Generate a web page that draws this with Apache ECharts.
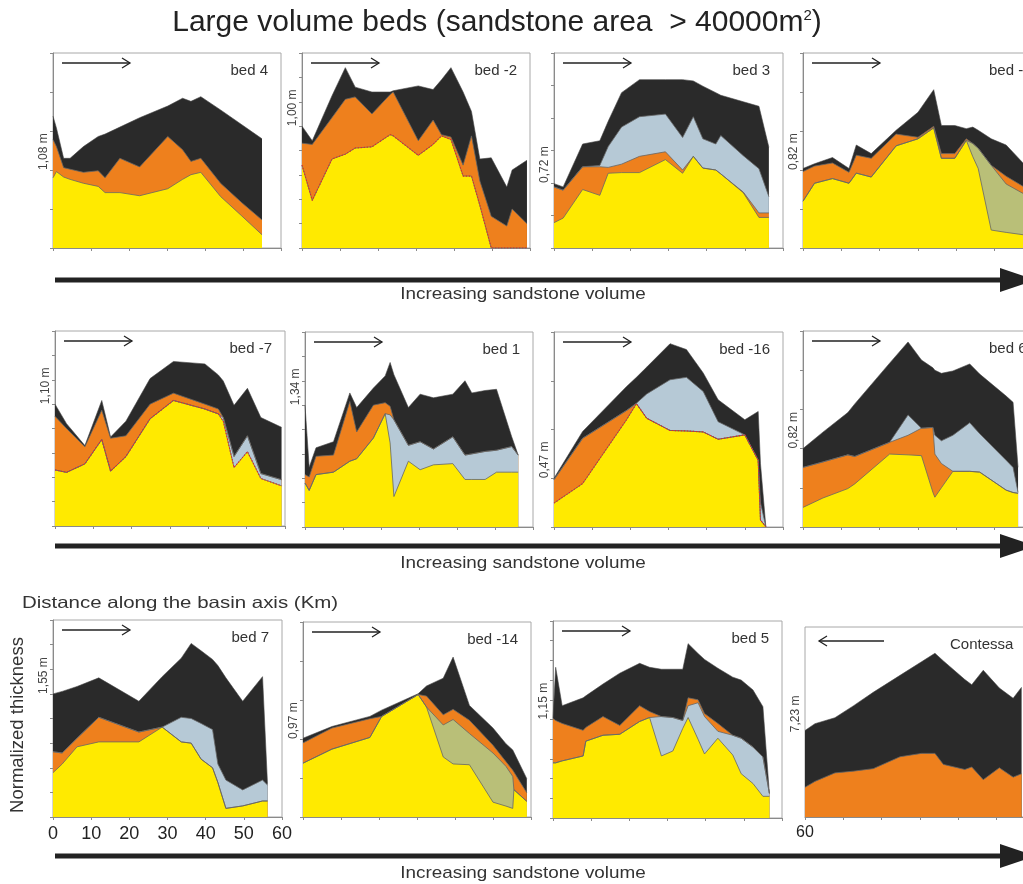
<!DOCTYPE html>
<html>
<head>
<meta charset="utf-8">
<script src="https://cdn.jsdelivr.net/npm/echarts@6/dist/echarts.min.js"></script>
<style>
  html, body { margin: 0; padding: 0; background: #fff; }
  #main { width: 1023px; height: 884px; }
</style>
</head>
<body>
<div id="main"></div>
<script>
// distance along the basin axis (km) of each measured section, then normalized thickness of each layer top
const bed4X = [0, 0.9, 2.8, 4.5, 8, 11.9, 13.7, 17.6, 22.8, 30.2, 34.1, 36.3, 38.9, 44.1, 49.7, 55]
const bed4Yellow = [0.90, 0.98, 0.91, 0.88, 0.83, 0.79, 0.71, 0.71, 0.67, 0.76, 0.88, 0.94, 0.97, 0.66, 0.41, 0.17]
const bed4Orange = [1.39, 1.30, 1.03, 1.01, 0.97, 0.99, 0.90, 1.15, 1.04, 1.43, 1.26, 1.11, 1.15, 0.83, 0.58, 0.36]
const bed4Black = [1.69, 1.54, 1.15, 1.15, 1.30, 1.43, 1.46, 1.55, 1.67, 1.82, 1.92, 1.88, 1.94, 1.77, 1.58, 1.40]

const bedM2X = [0, 2.7, 7.9, 11.4, 14.0, 18.4, 23.2, 24.0, 30.6, 34.5, 36.7, 39.2, 42.4, 44.6, 46.8, 49.8, 53.9, 55.3, 59.2]
const bedM2Yellow = [0.68, 0.39, 0.73, 0.77, 0.82, 0.83, 0.93, 0.92, 0.76, 0.85, 0.92, 0.89, 0.59, 0.59, 0.35, 0, 0, 0, 0]
const bedM2Orange = [0.86, 0.85, 1.07, 1.22, 1.24, 1.10, 1.26, 1.28, 0.88, 1.05, 0.93, 0.91, 0.68, 0.92, 0.55, 0.26, 0.18, 0.32, 0.20]
const bedM2Black = [1.00, 0.88, 1.25, 1.48, 1.32, 1.28, 1.28, 1.29, 1.33, 1.30, 1.38, 1.48, 1.28, 1.12, 0.73, 0.74, 0.50, 0.64, 0.72]

const bed3X = [0, 2.4, 7.5, 12.0, 14.2, 17.7, 22.4, 29.2, 33.7, 36.5, 39.0, 42.4, 43.7, 49.6, 53.7, 56.3]
const bed3Yellow = [0.39, 0.46, 0.90, 0.81, 1.15, 1.16, 1.16, 1.36, 1.15, 1.41, 1.23, 1.20, 1.14, 0.85, 0.47, 0.47]
const bed3Orange = [0.94, 0.89, 1.25, 1.25, 1.24, 1.29, 1.41, 1.48, 1.20, 1.41, 1.23, 1.20, 1.14, 0.86, 0.54, 0.54]
const bed3Blue = [0.94, 0.89, 1.25, 1.27, 1.56, 1.86, 2.02, 2.06, 1.70, 2.02, 1.68, 1.60, 1.73, 1.42, 1.22, 0.79]
const bed3Black = [0.99, 0.94, 1.60, 1.65, 1.95, 2.39, 2.59, 2.59, 2.59, 2.57, 2.49, 2.39, 2.35, 2.25, 2.18, 1.55]

const bedM6X = [0, 3.0, 7.7, 12.0, 13.9, 17.8, 24.3, 30.0, 34.1, 36.1, 39.6, 42.6, 44.3, 45.7, 49.1, 53.0, 57.4]
const bedM6Yellow = [0.60, 0.83, 0.89, 0.83, 0.96, 0.91, 1.31, 1.40, 1.54, 1.15, 1.15, 1.38, 1.17, 1.02, 0.23, 0.20, 0.17]
const bedM6Green = [0.60, 0.83, 0.89, 0.83, 0.96, 0.91, 1.31, 1.40, 1.54, 1.15, 1.15, 1.38, 1.34, 1.28, 1.06, 0.82, 0.70]
const bedM6Orange = [0.98, 1.05, 1.09, 0.97, 1.19, 1.15, 1.46, 1.42, 1.56, 1.21, 1.21, 1.40, 1.34, 1.28, 1.06, 0.92, 0.79]
const bedM6Black = [1.02, 1.08, 1.16, 1.02, 1.32, 1.21, 1.51, 1.74, 2.03, 1.57, 1.57, 1.53, 1.55, 1.51, 1.40, 1.32, 1.09]

const bedM7X = [0, 3.0, 7.8, 12.2, 14.5, 18.5, 24.8, 30.9, 39.1, 42.6, 43.9, 46.7, 50.2, 53.7, 59.1]
const bedM7Yellow = [0.46, 0.44, 0.51, 0.71, 0.45, 0.57, 0.88, 1.03, 0.96, 0.92, 0.86, 0.48, 0.61, 0.39, 0.33]
const bedM7Blue = [0.46, 0.44, 0.51, 0.71, 0.45, 0.57, 0.88, 1.03, 0.96, 0.92, 0.89, 0.57, 0.74, 0.43, 0.38]
const bedM7Orange = [0.90, 0.80, 0.65, 0.95, 0.72, 0.74, 1.00, 1.09, 1.00, 0.96, 0.89, 0.57, 0.74, 0.43, 0.38]
const bedM7Black = [1.00, 0.84, 0.66, 1.03, 0.73, 0.86, 1.21, 1.35, 1.33, 1.24, 1.19, 0.99, 1.13, 0.89, 0.81]

const bed1X = [0, 1.1, 2.9, 7.5, 11.8, 13.6, 18.0, 21.1, 22.4, 23.4, 27.2, 30.3, 33.8, 38.9, 42.1, 43.9, 47.4, 50.4, 54.4, 56.1]
const bed1Yellow = [0.36, 0.30, 0.43, 0.45, 0.54, 0.56, 0.73, 0.93, 0.69, 0.25, 0.54, 0.47, 0.51, 0.52, 0.39, 0.39, 0.39, 0.45, 0.45, 0.45]
const bed1Blue = [0.36, 0.30, 0.43, 0.45, 0.54, 0.56, 0.73, 0.93, 0.92, 0.88, 0.67, 0.70, 0.64, 0.74, 0.59, 0.60, 0.62, 0.63, 0.66, 0.59]
const bed1Orange = [0.43, 0.41, 0.58, 0.59, 1.03, 0.78, 1.00, 1.02, 0.99, 0.88, 0.67, 0.70, 0.64, 0.74, 0.59, 0.60, 0.62, 0.63, 0.66, 0.59]
const bed1Black = [1.00, 0.49, 0.65, 0.70, 1.10, 0.98, 1.14, 1.24, 1.35, 1.25, 0.98, 1.09, 1.06, 1.09, 1.20, 1.10, 1.12, 1.13, 0.74, 0.59]

const bedM16X = [0, 7.5, 19.0, 21.6, 24.3, 30.4, 34.7, 39.1, 43.0, 50.0, 53.5, 54.1, 55.5]
const bedM16Yellow = [0.49, 0.89, 2.20, 2.53, 2.23, 1.98, 1.97, 1.95, 1.80, 1.89, 1.37, 0.14, 0.01]
const bedM16Orange = [0.97, 1.82, 2.39, 2.53, 2.23, 1.98, 1.97, 1.95, 1.80, 1.89, 1.37, 0.14, 0.01]
const bedM16Blue = [0.97, 1.82, 2.39, 2.54, 2.73, 3.02, 3.07, 2.78, 2.16, 1.89, 1.37, 0.50, 0.01]
const bedM16Black = [1.00, 1.96, 2.88, 3.07, 3.28, 3.76, 3.64, 3.16, 2.61, 2.20, 2.37, 1.30, 0.01]

const bed6X = [0, 5.2, 11.7, 13.5, 22.6, 27.4, 30.9, 33.9, 34.4, 36.1, 39.1, 43.5, 46.1, 53.0, 54.8, 56.1]
const bed6Yellow = [0.25, 0.37, 0.49, 0.55, 0.93, 0.92, 0.91, 0.44, 0.38, 0.50, 0.71, 0.71, 0.70, 0.47, 0.44, 0.43]
const bed6Orange = [0.76, 0.83, 0.92, 0.90, 1.08, 1.17, 1.26, 1.27, 0.93, 0.81, 0.71, 0.71, 0.70, 0.47, 0.44, 0.43]
const bed6Blue = [0.76, 0.83, 0.92, 0.90, 1.08, 1.43, 1.26, 1.27, 1.17, 1.10, 1.17, 1.33, 1.19, 0.85, 0.76, 0.44]
const bed6Black = [1.00, 1.21, 1.46, 1.57, 2.09, 2.36, 2.13, 2.03, 2.00, 1.96, 1.99, 2.08, 1.95, 1.67, 1.59, 0.76]

const bed7X = [0, 2.4, 6.3, 12.0, 22.5, 28.6, 33.6, 36.2, 38.8, 41.8, 43.2, 45.3, 49.7, 54.9, 56.2]
const bed7Yellow = [0.36, 0.43, 0.57, 0.61, 0.61, 0.73, 0.61, 0.60, 0.47, 0.40, 0.28, 0.07, 0.09, 0.13, 0.13]
const bed7Orange = [0.53, 0.52, 0.64, 0.81, 0.69, 0.73, 0.61, 0.60, 0.47, 0.40, 0.28, 0.07, 0.09, 0.13, 0.13]
const bed7Blue = [0.53, 0.52, 0.64, 0.81, 0.69, 0.73, 0.81, 0.80, 0.76, 0.71, 0.43, 0.30, 0.22, 0.30, 0.26]
const bed7Black = [1.00, 1.02, 1.06, 1.13, 0.94, 1.14, 1.29, 1.41, 1.35, 1.28, 1.23, 1.13, 0.94, 1.14, 0.27]

const bedM14X = [0, 7.6, 17.6, 20.7, 30.3, 32.5, 36.9, 39.5, 43.8, 50.0, 53.4, 55.2, 55.5, 58.9]
const bedM14Yellow = [0.69, 0.87, 1.02, 1.29, 1.57, 1.41, 0.77, 0.68, 0.67, 0.19, 0.14, 0.11, 0.35, 0.20]
const bedM14Green = [0.69, 0.87, 1.02, 1.29, 1.57, 1.41, 1.18, 1.25, 1.07, 0.82, 0.65, 0.52, 0.35, 0.20]
const bedM14Orange = [0.95, 1.14, 1.26, 1.29, 1.57, 1.55, 1.31, 1.38, 1.24, 0.92, 0.71, 0.60, 0.58, 0.31]
const bedM14Black = [1.01, 1.16, 1.29, 1.37, 1.58, 1.68, 1.78, 2.05, 1.43, 1.14, 0.94, 0.86, 0.84, 0.49]

const bed5X = [0, 0.7, 2.4, 7.9, 8.6, 13.1, 17.5, 22.7, 25.3, 28.4, 31.4, 34.0, 35.4, 38.0, 39.7, 43.2, 47.1, 49.3, 52.4, 55.0, 56.7]
const bed5Yellow = [0.56, 0.56, 0.58, 0.63, 0.78, 0.84, 0.85, 0.98, 1.02, 0.63, 0.68, 0.91, 1.02, 0.80, 0.65, 0.81, 0.64, 0.45, 0.35, 0.22, 0.22]
const bed5Blue = [0.56, 0.56, 0.58, 0.63, 0.78, 0.84, 0.85, 0.98, 1.02, 1.03, 1.02, 0.99, 1.14, 1.17, 1.03, 0.88, 0.84, 0.81, 0.72, 0.62, 0.25]
const bed5Orange = [1.01, 0.99, 0.96, 0.89, 0.92, 1.03, 0.94, 1.14, 1.08, 1.03, 1.02, 0.99, 1.22, 1.20, 1.06, 0.96, 0.84, 0.81, 0.72, 0.62, 0.25]
const bed5Black = [1.01, 1.53, 1.14, 1.22, 1.24, 1.36, 1.47, 1.57, 1.53, 1.51, 1.51, 1.51, 1.77, 1.67, 1.61, 1.52, 1.43, 1.40, 1.30, 1.13, 0.25]

const contessaX = [60, 57.4, 52.2, 47.4, 42.2, 35.2, 29.6, 26.1, 23.9, 18.3, 16.5, 13.5, 9.3, 5.7, 3.5]
const contessaOrange = [0.35, 0.42, 0.52, 0.54, 0.57, 0.71, 0.75, 0.75, 0.62, 0.56, 0.59, 0.44, 0.58, 0.47, 0.51]
const contessaBlack = [1.02, 1.10, 1.17, 1.31, 1.47, 1.67, 1.83, 1.93, 1.84, 1.62, 1.56, 1.73, 1.52, 1.40, 1.53]

const xTicks = [0, 10, 20, 30, 40, 50, 60]

const colors = {
  black: '#2a2a2a',
  orange: '#ee801d',
  blue: '#b6c9d6',
  green: '#b9bf78',
  yellow: '#ffea00'
}

// layers listed from the top one down, each drawn over the previous
const panels = [
  {name: 'bed 4', tag: '1,08 m', ymax: 2.5, step: 0.5, box: [53, 53, 228, 195], x: bed4X,
    layers: [['black', bed4Black], ['orange', bed4Orange], ['yellow', bed4Yellow]]},
  {name: 'bed -2', tag: '1,00 m', ymax: 1.6, step: 0.2, box: [302, 53, 228, 195], x: bedM2X, dots: true,
    layers: [['black', bedM2Black], ['orange', bedM2Orange], ['yellow', bedM2Yellow]]},
  {name: 'bed 3', tag: '0,72 m', ymax: 3, step: 0.5, box: [554, 53, 229, 195], x: bed3X,
    layers: [['black', bed3Black], ['blue', bed3Blue], ['orange', bed3Orange], ['yellow', bed3Yellow]]},
  {name: 'bed -6', tag: '0,82 m', ymax: 2.5, step: 0.5, box: [803, 53, 230, 195], x: bedM6X,
    layers: [['black', bedM6Black], ['orange', bedM6Orange], ['green', bedM6Green], ['yellow', bedM6Yellow]]},
  {name: 'bed -7', tag: '1,10 m', ymax: 1.6, step: 0.2, box: [55, 331, 230, 195], x: bedM7X, dots: true,
    layers: [['black', bedM7Black], ['orange', bedM7Orange], ['blue', bedM7Blue], ['yellow', bedM7Yellow]]},
  {name: 'bed 1', tag: '1,34 m', ymax: 1.6, step: 0.2, box: [305, 332, 228, 195], x: bed1X,
    layers: [['black', bed1Black], ['orange', bed1Orange], ['blue', bed1Blue], ['yellow', bed1Yellow]]},
  {name: 'bed -16', tag: '0,47 m', ymax: 4, step: 1, box: [554, 332, 229, 195], x: bedM16X, dots: true,
    layers: [['black', bedM16Black], ['blue', bedM16Blue], ['orange', bedM16Orange], ['yellow', bedM16Yellow]]},
  {name: 'bed 6', tag: '0,82 m', ymax: 2.5, step: 0.5, box: [803, 331, 230, 196], x: bed6X,
    layers: [['black', bed6Black], ['blue', bed6Blue], ['orange', bed6Orange], ['yellow', bed6Yellow]]},
  {name: 'bed 7', tag: '1,55 m', ymax: 1.6, step: 0.2, box: [53, 620, 229, 197], x: bed7X,
    layers: [['black', bed7Black], ['blue', bed7Blue], ['orange', bed7Orange], ['yellow', bed7Yellow]]},
  {name: 'bed -14', tag: '0,97 m', ymax: 2.5, step: 0.5, box: [303, 622, 228, 195], x: bedM14X,
    layers: [['black', bedM14Black], ['orange', bedM14Orange], ['green', bedM14Green], ['yellow', bedM14Yellow]]},
  {name: 'bed 5', tag: '1,15 m', ymax: 2, step: 0.2, box: [553, 621, 229, 197], x: bed5X,
    layers: [['black', bed5Black], ['orange', bed5Orange], ['blue', bed5Blue], ['yellow', bed5Yellow]]},
  {name: 'Contessa', tag: '7,23 m', ymax: 2.24, step: 1, box: [805, 627, 230, 190], x: contessaX,
    layers: [['black', contessaBlack], ['orange', contessaOrange]], reverse: true}
]

const FONT = 'Liberation Sans, Arial, sans-serif'
const grids = [], xAxes = [], yAxes = [], series = [], graphics = []

panels.forEach((p, i) => {
  const [left, top, width, height] = p.box
  grids.push({left, top, width, height, outerBoundsMode: 'none', containLabel: false,
    show: true, borderColor: '#a8a8a8', borderWidth: 1, backgroundColor: 'transparent'})
  const showX = i === 8 || i === 11
  xAxes.push({
    gridIndex: i, type: 'value', min: 0, max: 60, interval: 10, inverse: !!p.reverse,
    axisLine: {show: true, onZero: false, lineStyle: {color: '#8a8a8a', width: 1}},
    axisTick: {show: true, length: 3, lineStyle: {color: '#8a8a8a'}},
    splitLine: {show: false},
    axisLabel: {
      show: showX, fontFamily: FONT, fontSize: i === 11 ? 16 : 18, color: '#222', margin: 8,
      formatter: v => (i === 11 && v !== 60 && v !== 0) ? '' : (xTicks.includes(v) ? String(v) : '')
    }
  })
  yAxes.push({
    gridIndex: i, type: 'value', min: 0, max: p.ymax, interval: p.step,
    axisLine: {show: true, lineStyle: {color: '#8a8a8a', width: 1}},
    axisTick: {show: true, length: 3, lineStyle: {color: '#8a8a8a'}},
    splitLine: {show: false},
    axisLabel: {
      rotate: 90, align: 'left', margin: 3, fontFamily: FONT, fontSize: 12, color: '#444',
      formatter: v => Math.abs(v - 1) < 1e-6 ? p.tag : ''
    }
  })
  p.layers.forEach(([kind, vals]) => {
    series.push({
      type: 'line', xAxisIndex: i, yAxisIndex: i, name: p.name + ' ' + kind,
      data: p.x.map((x, k) => [x, vals[k]]),
      symbol: 'none', silent: true,
      lineStyle: kind === 'black' ? {color: '#444', width: 0.6} : {color: '#666', width: 0.8},
      areaStyle: {color: colors[kind], opacity: 1}
    })
  })
  if (p.dots) {
    const top = p.layers[p.layers.length - 1][1]
    series.push({
      type: 'line', xAxisIndex: i, yAxisIndex: i, name: p.name + ' contact',
      data: p.x.map((x, k) => [x, top[k]]),
      symbol: 'none', silent: true,
      lineStyle: {color: '#e4242b', width: 1.1, type: [1.3, 1.7]}
    })
  }

  // small direction arrow and bed name
  const ay = top + (p.reverse ? 14 : 10)
  if (p.reverse) {
    const x0 = left + 79, x1 = left + 14
    graphics.push({type: 'polyline', shape: {points: [[x0, ay], [x1, ay]]}, style: {stroke: '#222', lineWidth: 1.3, fill: null}})
    graphics.push({type: 'polyline', shape: {points: [[x1 + 8, ay - 5], [x1, ay], [x1 + 8, ay + 5]]}, style: {stroke: '#222', lineWidth: 1.3, fill: null}})
  } else {
    const x0 = left + 9, x1 = left + 77
    graphics.push({type: 'polyline', shape: {points: [[x0, ay], [x1, ay]]}, style: {stroke: '#222', lineWidth: 1.3, fill: null}})
    graphics.push({type: 'polyline', shape: {points: [[x1 - 8, ay - 5], [x1, ay], [x1 - 8, ay + 5]]}, style: {stroke: '#222', lineWidth: 1.3, fill: null}})
  }
  const col = i % 4
  const nameX = col === 3 ? (i === 11 ? left + 145 : left + 186) : left + width - 13
  graphics.push({
    type: 'text', x: nameX, y: top + 18,
    style: {text: p.name, fontFamily: FONT, fontSize: 15, fill: '#333',
      align: col === 3 ? 'left' : 'right', verticalAlign: 'middle'}
  })
})

// big "increasing sandstone volume" arrows
;[280, 546, 856].forEach((y, r) => {
  graphics.push({type: 'rect', shape: {x: 55, y: y - 2.5, width: 950, height: 5}, style: {fill: '#222'}})
  graphics.push({type: 'polygon', shape: {points: [[1000, y - 12], [1036, y], [1000, y + 12]]}, style: {fill: '#222'}})
  graphics.push({
    type: 'text', x: 523, y: [294, 563, 873][r], scaleX: 1.11, originX: 0,
    style: {text: 'Increasing sandstone volume', fontFamily: FONT, fontSize: 17, fill: '#333', align: 'center', verticalAlign: 'middle'}
  })
})

graphics.push({
  type: 'text', x: 497, y: 23,
  style: {
    text: 'Large volume beds (sandstone area  > 40000m{sup|2})',
    fontFamily: FONT, fontSize: 30, fill: '#222', align: 'center', verticalAlign: 'middle',
    rich: {sup: {fontSize: 15, verticalAlign: 'top', fontFamily: FONT, fill: '#222'}}
  }
})
graphics.push({
  type: 'text', x: 22, y: 603, scaleX: 1.24, originX: 0,
  style: {text: 'Distance along the basin axis (Km)', fontFamily: FONT, fontSize: 16.5, fill: '#333', align: 'left', verticalAlign: 'middle'}
})
graphics.push({
  type: 'text', x: 18, y: 725, rotation: Math.PI / 2,
  style: {text: 'Normalized thickness', fontFamily: FONT, fontSize: 18.5, fill: '#333', align: 'center', verticalAlign: 'middle'}
})

const chart = echarts.init(document.getElementById('main'))
chart.setOption({
  backgroundColor: '#fff',
  animation: false,
  grid: grids,
  xAxis: xAxes,
  yAxis: yAxes,
  series,
  graphic: graphics
})
</script>
</body>
</html>
